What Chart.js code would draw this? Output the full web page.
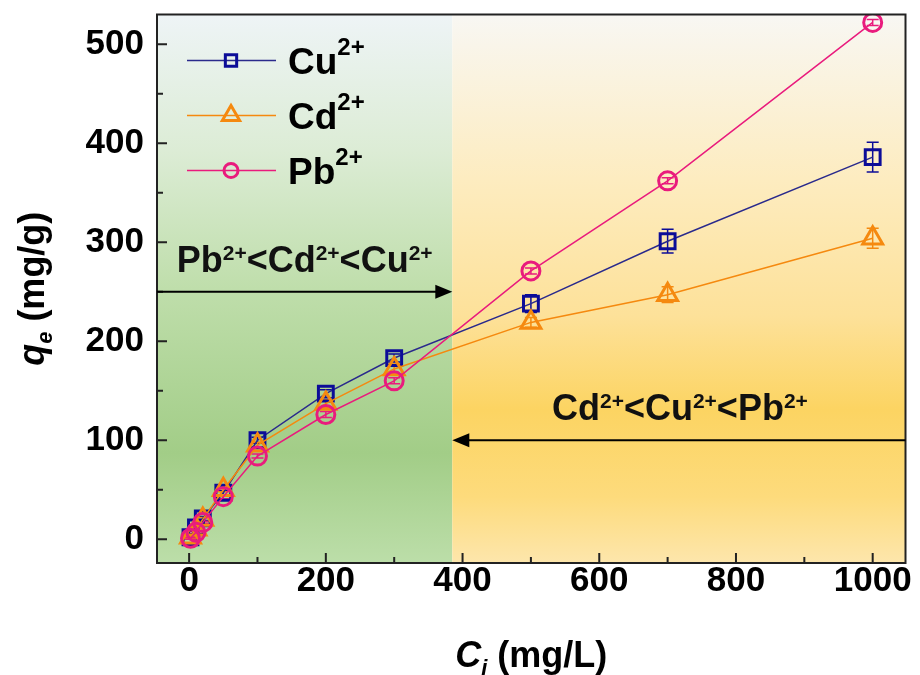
<!DOCTYPE html>
<html>
<head>
<meta charset="utf-8">
<script src="https://cdn.jsdelivr.net/npm/chart.js@4.4.1/dist/chart.umd.min.js"></script>
<style>
  html, body { margin: 0; padding: 0; background: #fff; }
</style>
</head>
<body>
<canvas id="chart" width="920" height="675"></canvas>
<script>
// Adsorption isotherm data

// initial concentration C_i (mg/L)
const concentrations = [2, 10, 20, 50, 100, 200, 300, 500, 700, 1000];

// q_e (mg/g) for each ion
const cuValues = [2, 12, 21, 47, 100, 147, 183, 238, 301, 386];
const cdValues = [2, 10, 20, 50, 95, 137, 172, 219, 247, 304];
const pbValues = [1, 7, 17, 43, 84, 126, 160, 271, 362, 522];

// error bars (+/-)
const cuErrors = [1, 1, 2, 2, 3, 4, 4, 9, 12, 15];
const cdErrors = [1, 1, 2, 2, 3, 4, 5, 5, 8, 10];
const pbErrors = [1, 1, 1, 2, 2, 3, 3, 3, 3, 3];

const seriesNames = ['Cu^{2+}', 'Cd^{2+}', 'Pb^{2+}'];

// axis ticks
const xTicks = [0, 200, 400, 600, 800, 1000];
const xMinorTicks = [100, 300, 500, 700, 900];
const yTicks = [0, 100, 200, 300, 400, 500];
const yMinorTicks = [50, 150, 250, 350, 450];

// where the uptake order switches, and the two annotations
const regionSplit = 385;
const lowOrderText = 'Pb^{2+}<Cd^{2+}<Cu^{2+}';
const lowOrderLevel = 250;
const highOrderText = 'Cd^{2+}<Cu^{2+}<Pb^{2+}';
const highOrderLevel = 100;

const FONT = "'Liberation Sans', Arial, sans-serif";
const colors = {
    cu: '#0c0c98',
    cuLine: '#2a2a8c',
    cd: '#f5890f',
    pb: '#e91b7d'
};

// split 'Cu^{2+}' into normal / superscript runs
function parseRuns(str, size, supSize, supShift) {
    const parts = str.split(/\^\{([^}]*)\}/);
    const runs = [];
    parts.forEach((p, i) => {
        if (p === '') return;
        if (i % 2 === 1) runs.push({ t: p, font: 'bold ' + supSize + 'px ' + FONT, dy: -supShift });
        else runs.push({ t: p, font: 'bold ' + size + 'px ' + FONT, dy: 0 });
    });
    return runs;
}

function runsWidth(ctx, runs) {
    let w = 0;
    runs.forEach(r => { ctx.font = r.font; w += ctx.measureText(r.t).width; });
    return w;
}

function drawRuns(ctx, runs, x, y, align) {
    const w = runsWidth(ctx, runs);
    let cx = align === 'center' ? x - w / 2 : (align === 'right' ? x - w : x);
    ctx.textAlign = 'left';
    ctx.textBaseline = 'alphabetic';
    runs.forEach(r => {
        ctx.font = r.font;
        ctx.fillText(r.t, cx, y + r.dy);
        cx += ctx.measureText(r.t).width;
    });
}

function arrow(ctx, x1, y, x2) {
    const dir = x2 > x1 ? 1 : -1;
    ctx.save();
    ctx.strokeStyle = '#000';
    ctx.fillStyle = '#000';
    ctx.lineWidth = 2;
    ctx.beginPath();
    ctx.moveTo(x1, y);
    ctx.lineTo(x2 - dir * 14, y);
    ctx.stroke();
    ctx.beginPath();
    ctx.moveTo(x2, y);
    ctx.lineTo(x2 - dir * 17, y - 7);
    ctx.lineTo(x2 - dir * 17, y + 7);
    ctx.closePath();
    ctx.fill();
    ctx.restore();
}

const backgroundPlugin = {
    id: 'regions',
    beforeDatasetsDraw(chart) {
        const { ctx, chartArea: a, scales } = chart;
        const split = scales.x.getPixelForValue(regionSplit);

        const green = ctx.createLinearGradient(0, a.top, 0, a.bottom);
        green.addColorStop(0, '#eef4f6');
        green.addColorStop(0.25, '#dcecd5');
        green.addColorStop(0.5, '#bfdeab');
        green.addColorStop(0.8, '#a2cd87');
        green.addColorStop(1, '#bcdea9');

        const orange = ctx.createLinearGradient(0, a.top, 0, a.bottom);
        orange.addColorStop(0, '#f8f7f3');
        orange.addColorStop(0.3, '#fdecc0');
        orange.addColorStop(0.55, '#fde199');
        orange.addColorStop(0.72, '#fcd462');
        orange.addColorStop(0.88, '#fddb7c');
        orange.addColorStop(1, '#fde6ac');

        ctx.save();
        ctx.fillStyle = green;
        ctx.fillRect(a.left, a.top, split - a.left, a.bottom - a.top);
        ctx.fillStyle = orange;
        ctx.fillRect(split, a.top, a.right - split, a.bottom - a.top);
        ctx.restore();

        // error bars go under the hollow markers
        const errors = [cuErrors, cdErrors, pbErrors];
        const errColors = [colors.cu, colors.cd, colors.pb];
        ctx.save();
        ctx.lineWidth = 1.5;
        chart.data.datasets.forEach((ds, i) => {
            const meta = chart.getDatasetMeta(i);
            ctx.strokeStyle = errColors[i];
            meta.data.forEach((pt, j) => {
                const v = ds.data[j].y;
                const top = scales.y.getPixelForValue(v + errors[i][j]);
                const bot = scales.y.getPixelForValue(v - errors[i][j]);
                ctx.beginPath();
                ctx.moveTo(pt.x, top); ctx.lineTo(pt.x, bot);
                ctx.moveTo(pt.x - 6, top); ctx.lineTo(pt.x + 6, top);
                ctx.moveTo(pt.x - 6, bot); ctx.lineTo(pt.x + 6, bot);
                ctx.stroke();
            });
        });
        ctx.restore();
    },
    afterDatasetsDraw(chart) {
        const { ctx, chartArea: a, scales } = chart;
        const split = scales.x.getPixelForValue(regionSplit);

        // inward tick marks
        ctx.save();
        ctx.strokeStyle = '#222';
        ctx.lineWidth = 2;
        ctx.beginPath();
        xTicks.forEach(v => { const x = scales.x.getPixelForValue(v); ctx.moveTo(x, a.bottom); ctx.lineTo(x, a.bottom - 10); });
        xMinorTicks.forEach(v => { const x = scales.x.getPixelForValue(v); ctx.moveTo(x, a.bottom); ctx.lineTo(x, a.bottom - 6); });
        yTicks.forEach(v => { const y = scales.y.getPixelForValue(v); ctx.moveTo(a.left, y); ctx.lineTo(a.left + 10, y); });
        yMinorTicks.forEach(v => { const y = scales.y.getPixelForValue(v); ctx.moveTo(a.left, y); ctx.lineTo(a.left + 6, y); });
        ctx.stroke();
        // frame
        ctx.strokeRect(a.left, a.top, a.right - a.left, a.bottom - a.top);
        ctx.restore();

        // annotations
        ctx.save();
        ctx.fillStyle = '#111';
        const yLow = scales.y.getPixelForValue(lowOrderLevel);
        const yHigh = scales.y.getPixelForValue(highOrderLevel);
        arrow(ctx, a.left, yLow, split);
        arrow(ctx, a.right, yHigh, split);
        drawRuns(ctx, parseRuns(lowOrderText, 36, 21, 12), (a.left + split) / 2, yLow - 20, 'center');
        drawRuns(ctx, parseRuns(highOrderText, 36, 21, 12), (split + a.right) / 2 + 1, yHigh - 20, 'center');
        ctx.restore();
    },
    afterDraw(chart) {
        const { ctx, chartArea: a } = chart;

        // legend: line - marker - line, then label
        const items = [
            { color: colors.cu, line: colors.cuLine, style: 'rect', r: 8 },
            { color: colors.cd, line: colors.cd, style: 'triangle', r: 10 },
            { color: colors.pb, line: colors.pb, style: 'circle', r: 7 }
        ];
        items.forEach((it, i) => {
            const base = a.top + 59 + i * 55;
            const ly = base - 13;
            ctx.save();
            ctx.strokeStyle = it.line;
            ctx.lineWidth = 1.5;
            ctx.beginPath();
            ctx.moveTo(a.left + 30, ly); ctx.lineTo(a.left + 119, ly);
            ctx.stroke();
            ctx.fillStyle = 'rgba(255,255,255,0)';
            ctx.strokeStyle = it.color;
            ctx.lineWidth = 3;
            Chart.helpers.drawPoint(ctx, { pointStyle: it.style, rotation: 0, radius: it.r, borderWidth: 3 }, a.left + 74, ly);
            ctx.fillStyle = '#000';
            drawRuns(ctx, parseRuns(seriesNames[i], 37, 24, 19), a.left + 131, base, 'left');
            ctx.restore();
        });

        // axis titles with italic symbol and subscript
        ctx.save();
        ctx.fillStyle = '#000';
        const xTitle = [
            { t: 'C', font: 'italic bold 36px ' + FONT, dy: 0 },
            { t: 'i', font: 'italic bold 22px ' + FONT, dy: 8 },
            { t: ' (mg/L)', font: 'bold 36px ' + FONT, dy: 0 }
        ];
        drawRuns(ctx, xTitle, (a.left + a.right) / 2, 667, 'center');

        const yTitle = [
            { t: 'q', font: 'italic bold 36px ' + FONT, dy: 0 },
            { t: 'e', font: 'italic bold 22px ' + FONT, dy: 8 },
            { t: ' (mg/g)', font: 'bold 36px ' + FONT, dy: 0 }
        ];
        ctx.translate(44, (a.top + a.bottom) / 2);
        ctx.rotate(-Math.PI / 2);
        drawRuns(ctx, yTitle, 0, 0, 'center');
        ctx.restore();
    }
};

function points(values) {
    return values.map((v, i) => ({ x: concentrations[i], y: v }));
}

const ctx = document.getElementById('chart').getContext('2d');
new Chart(ctx, {
    type: 'line',
    data: {
        datasets: [
            {
                label: 'Cu2+',
                data: points(cuValues),
                borderColor: colors.cuLine,
                borderWidth: 1.5,
                pointStyle: 'rect',
                pointRadius: 10.5,
                pointBorderWidth: 3,
                pointBorderColor: colors.cu,
                pointBackgroundColor: 'rgba(0,0,0,0)',
                order: 2
            },
            {
                label: 'Cd2+',
                data: points(cdValues),
                borderColor: colors.cd,
                borderWidth: 1.5,
                pointStyle: 'triangle',
                pointRadius: 11.5,
                pointBorderWidth: 3,
                pointBorderColor: colors.cd,
                pointBackgroundColor: 'rgba(0,0,0,0)',
                order: 1
            },
            {
                label: 'Pb2+',
                data: points(pbValues),
                borderColor: colors.pb,
                borderWidth: 1.5,
                pointStyle: 'circle',
                pointRadius: 9,
                pointBorderWidth: 3,
                pointBorderColor: colors.pb,
                pointBackgroundColor: 'rgba(0,0,0,0)',
                order: 0
            }
        ]
    },
    options: {
        responsive: false,
        animation: false,
        layout: { padding: { top: 13, right: 14, left: 0, bottom: 0 } },
        plugins: {
            legend: { display: false },
            tooltip: { enabled: false }
        },
        scales: {
            x: {
                type: 'linear',
                min: -47,
                max: 1048,
                grid: { display: false, drawTicks: false },
                border: { display: false },
                afterBuildTicks: scale => { scale.ticks = xTicks.map(v => ({ value: v })); },
                afterFit: scale => {
                    scale.height = 112;
                    scale.paddingLeft = 0;
                    scale.paddingRight = 0;
                },
                ticks: {
                    padding: -3,
                    color: '#000',
                    callback: v => String(v),
                    font: { family: FONT, size: 35, weight: 'bold' }
                }
            },
            y: {
                type: 'linear',
                min: -24,
                max: 530,
                grid: { display: false, drawTicks: false },
                border: { display: false },
                afterBuildTicks: scale => { scale.ticks = yTicks.map(v => ({ value: v })); },
                afterFit: scale => {
                    scale.width = 157;
                    scale.paddingTop = 0;
                    scale.paddingBottom = 0;
                },
                ticks: {
                    padding: 13,
                    color: '#000',
                    callback: v => String(v),
                    font: { family: FONT, size: 35, weight: 'bold' }
                }
            }
        }
    },
    plugins: [backgroundPlugin]
});
</script>
</body>
</html>
